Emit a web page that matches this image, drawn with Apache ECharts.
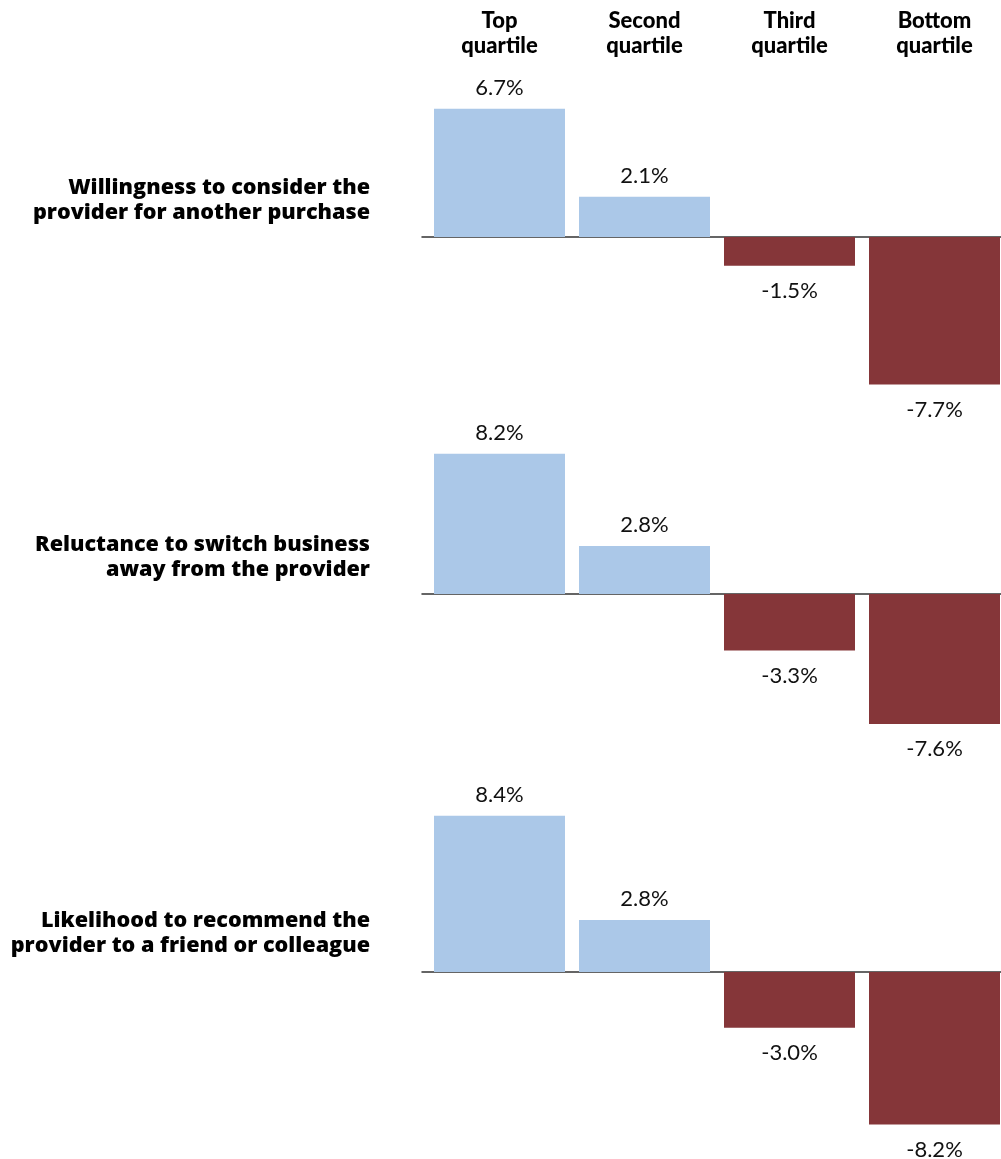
<!DOCTYPE html>
<html>
<head>
<meta charset="utf-8">
<style>
  html, body { margin: 0; padding: 0; background: #fff; }
  #chart { width: 1001px; height: 1159px; }
</style>
<script src="https://cdn.jsdelivr.net/npm/echarts@6/dist/echarts.min.js"></script>
</head>
<body>
<div id="chart"></div>
<script>
// 분기별 고객 충성도 지표 차이 (상위~하위 사분위)

const quartiles = ["Top\nquartile", "Second\nquartile", "Third\nquartile", "Bottom\nquartile"];
const measures = [
  "Willingness to consider the\nprovider for another purchase",
  "Reluctance to switch business\naway from the provider",
  "Likelihood to recommend the\nprovider to a friend or colleague"
];
const willingness = [6.7, 2.1, -1.5, -7.7];
const reluctance = [8.2, 2.8, -3.3, -7.6];
const likelihood = [8.4, 2.8, -3.0, -8.2];

const panelValues = [willingness, reluctance, likelihood];

// 패널별 배치 (픽셀/축 범위)
const panels = [
  { top: 103, height: 287.25, min: -8, max: 7, titleTop: 175 },
  { top: 440.1, height: 290.7, min: -8, max: 9, titleTop: 532 },
  { top: 804.6, height: 334.8, min: -9, max: 9, titleTop: 908 }
];

// 가로축: 사분위 인덱스를 값 축으로 배치 (칸 폭 145px, 기준선은 x=422부터)
const GRID_LEFT = 422;
const GRID_WIDTH = 579;
const BAND = 145;
const FIRST_CENTER = 77.5;
const X_MIN = -FIRST_CENTER / BAND;
const X_MAX = (GRID_WIDTH - FIRST_CENTER) / BAND;

const BLUE = "#abc8e8";
const RED = "#853639";
const FONT = "Lato";
const ROW_FONT = "Open Sans";

const grid = [];
const xAxis = [];
const yAxis = [];
const series = [];
const title = [];

panels.forEach((p, i) => {
  grid.push({ left: GRID_LEFT, width: GRID_WIDTH, top: p.top, height: p.height, outerBoundsMode: "none" });
  xAxis.push({
    type: "value",
    gridIndex: i,
    min: X_MIN,
    max: X_MAX,
    axisLine: { show: true, onZero: true, lineStyle: { color: "#333", width: 1.5 } },
    axisTick: { show: false },
    axisLabel: { show: false },
    splitLine: { show: false }
  });
  yAxis.push({
    type: "value",
    gridIndex: i,
    min: p.min,
    max: p.max,
    show: false,
    splitLine: { show: false }
  });
  series.push({
    type: "bar",
    xAxisIndex: i,
    yAxisIndex: i,
    barWidth: 131,
    silent: true,
    data: panelValues[i].map((v, k) => ({
      value: [k, v],
      itemStyle: { color: v < 0 ? RED : BLUE },
      label: { position: v < 0 ? "bottom" : "top", distance: v < 0 ? 14 : 10 }
    })),
    label: {
      show: true,
      fontFamily: FONT,
      fontSize: 22,
      color: "#111",
      formatter: (d) => d.value[1].toFixed(1) + "%"
    }
  });
  title.push({
    text: measures[i],
    left: 370,
    top: p.titleTop,
    padding: 0,
    textAlign: "right",
    textStyle: { fontFamily: ROW_FONT, fontSize: 21.6, fontWeight: 800, lineHeight: 25, color: "#000" }
  });
});

// 상단 사분위 헤더
xAxis.push({
  type: "value",
  gridIndex: 0,
  position: "top",
  min: X_MIN,
  max: X_MAX,
  axisLine: { show: false },
  axisTick: { show: false },
  splitLine: { show: false },
  axisLabel: {
    customValues: quartiles.map((_, k) => k),
    formatter: (v) => quartiles[Math.round(v)] || "",
    margin: 45,
    fontFamily: FONT,
    fontSize: 22,
    fontWeight: 900,
    lineHeight: 25,
    color: "#000"
  }
});

const chart = echarts.init(document.getElementById("chart"), null, { renderer: "canvas" });
chart.setOption({
  backgroundColor: "#fff",
  animation: false,
  title,
  grid,
  xAxis,
  yAxis,
  series
});
</script>
</body>
</html>
